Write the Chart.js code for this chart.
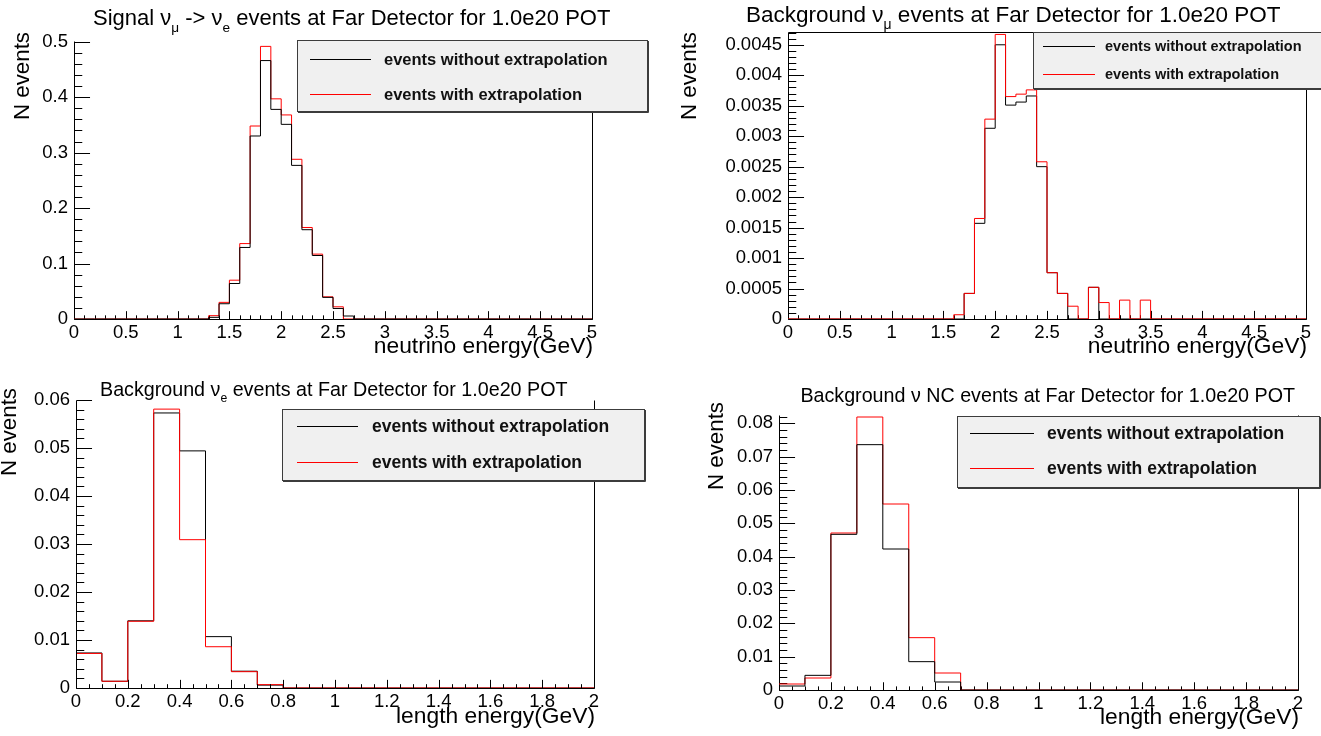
<!DOCTYPE html>
<html>
<head>
<meta charset="utf-8">
<title>Far Detector event spectra</title>
<script src="https://cdn.jsdelivr.net/npm/chart.js@4.4.1/dist/chart.umd.min.js"></script>
<style>
  html, body { margin: 0; padding: 0; background: #fff; }
  #wrap { position: relative; width: 1321px; height: 736px; overflow: hidden; }
  #wrap canvas { position: absolute; left: 0; top: 0; }
</style>
</head>
<body>
<div id="wrap">
  <canvas id="sig" width="1321" height="736"></canvas>
  <canvas id="numu" width="1321" height="736"></canvas>
  <canvas id="nue" width="1321" height="736"></canvas>
  <canvas id="nc" width="1321" height="736"></canvas>
</div>
<script>
const W = 1321, H = 736;
const FONT = "'Liberation Sans', Arial, Helvetica, sans-serif";

// all histograms use 0.1 GeV bins starting at 0
const BIN_WIDTH = 0.1;

// signal numu -> nue, 0..5 GeV
const sigNoExtrap = [
  0, 0, 0, 0, 0, 0, 0, 0, 0, 0,
  0, 0, 0, 0.003, 0.0275, 0.064, 0.129, 0.330, 0.466, 0.378,
  0.351, 0.277, 0.161, 0.1145, 0.039, 0.019, 0.0054, 0, 0, 0,
  0, 0, 0, 0, 0, 0, 0, 0, 0, 0,
  0, 0, 0, 0, 0, 0, 0, 0, 0, 0
];
const sigExtrap = [
  0, 0, 0, 0, 0, 0, 0, 0, 0, 0,
  0, 0, 0, 0.006, 0.030, 0.070, 0.136, 0.348, 0.4916, 0.397,
  0.368, 0.288, 0.165, 0.117, 0.040, 0.022, 0, 0, 0, 0,
  0, 0, 0, 0, 0, 0, 0, 0, 0, 0,
  0, 0, 0, 0, 0, 0, 0, 0, 0, 0
];

// background numu, 0..5 GeV
const numuNoExtrap = [
  0, 0, 0, 0, 0, 0, 0, 0, 0, 0,
  0, 0, 0, 0, 0, 0, 0, 0.00042, 0.00157, 0.00313,
  0.0045, 0.00351, 0.00356, 0.00366, 0.00250, 0.00076, 0.00042, 0, 0, 0.00052,
  0, 0, 0, 0, 0, 0, 0, 0, 0, 0,
  0, 0, 0, 0, 0, 0, 0, 0, 0, 0
];
const numuExtrap = [
  0, 0, 0, 0, 0, 0, 0, 0, 0, 0,
  0, 0, 0, 0, 0, 0, 0.00007, 0.00042, 0.00165, 0.00328,
  0.00467, 0.00365, 0.00369, 0.00376, 0.00258, 0.00076, 0.00042, 0.00021, 0, 0.00052,
  0.00027, 0, 0.00031, 0, 0.00031, 0, 0, 0, 0, 0,
  0, 0, 0, 0, 0, 0, 0, 0, 0, 0
];

// background nue, 0..2 GeV
const nueNoExtrap = [0.0073, 0.0014, 0.0140, 0.0573, 0.0494, 0.0107, 0.0035, 0.0006, 0, 0,
                     0, 0, 0, 0, 0, 0, 0, 0, 0, 0];
const nueExtrap   = [0.0072, 0.0014, 0.0139, 0.0581, 0.0309, 0.0086, 0.0034, 0.0007, 0, 0,
                     0, 0, 0, 0, 0, 0, 0, 0, 0, 0];

// background NC, 0..2 GeV
const ncNoExtrap = [0.0012, 0.0044, 0.0467, 0.0736, 0.0423, 0.0085, 0.0024, 0, 0, 0,
                    0, 0, 0, 0, 0, 0, 0, 0, 0, 0];
const ncExtrap   = [0.0018, 0.0036, 0.0471, 0.0819, 0.0558, 0.0157, 0.0051, 0, 0, 0,
                    0, 0, 0, 0, 0, 0, 0, 0, 0, 0];

// labelled axis ticks
const topXTicks = [0, 0.5, 1, 1.5, 2, 2.5, 3, 3.5, 4, 4.5, 5];
const bottomXTicks = [0, 0.2, 0.4, 0.6, 0.8, 1, 1.2, 1.4, 1.6, 1.8, 2];
const sigYTicks = [0, 0.1, 0.2, 0.3, 0.4, 0.5];
const numuYTicks = [0, 0.0005, 0.001, 0.0015, 0.002, 0.0025, 0.003, 0.0035, 0.004, 0.0045];
const nueYTicks = [0, 0.01, 0.02, 0.03, 0.04, 0.05, 0.06];
const ncYTicks = [0, 0.01, 0.02, 0.03, 0.04, 0.05, 0.06, 0.07, 0.08];

const legendLabels = ["events without extrapolation", "events with extrapolation"];

const X_BOX = 30;   // fixed height reserved for x tick labels

const panels = [
  {
    id: "sig",
    title: [["Signal ν"], ["μ", 1], [" -> ν"], ["e", 1], [" events at Far Detector for 1.0e20 POT"]],
    titleX: 93, titleY: 25, titleSize: 22, titleAlign: "left",
    xTitle: "neutrino energy(GeV)", xTitleY: 353,
    yTitleX: 23, yTitleTop: 32,
    frame: { left: 74, right: 592, top: 41, bottom: 319 },
    xMax: 5, yMax: 0.5013, xTicks: topXTicks, yTicks: sigYTicks, xMinor: 0.1, yMinor: 0.02,
    noExtrap: sigNoExtrap, extrap: sigExtrap, redOnTop: false, topLine: false,
    legend: { left: 297, top: 40, right: 648, bottom: 112, rows: [59, 94], lineX: [310, 371], textX: 384, size: 16.5 }
  },
  {
    id: "numu",
    title: [["Background ν"], ["μ", 1], [" events at Far Detector for 1.0e20 POT"]],
    titleX: 746, titleY: 22, titleSize: 22.5, titleAlign: "left",
    xTitle: "neutrino energy(GeV)", xTitleY: 353,
    yTitleX: 690, yTitleTop: 32,
    frame: { left: 788, right: 1306, top: 32, bottom: 319 },
    xMax: 5, yMax: 0.00471, xTicks: topXTicks, yTicks: numuYTicks, xMinor: 0.1, yMinor: 0.0001,
    noExtrap: numuNoExtrap, extrap: numuExtrap, redOnTop: true, topLine: true,
    legend: { left: 1033, top: 32, right: 1322, bottom: 89, rows: [46, 74], lineX: [1043, 1095], textX: 1105, size: 14.5 }
  },
  {
    id: "nue",
    title: [["Background ν"], ["e", 1], [" events at Far Detector for 1.0e20 POT"]],
    titleX: 100, titleY: 396, titleSize: 19.7, titleAlign: "left",
    xTitle: "length energy(GeV)", xTitleY: 723,
    yTitleX: 10, yTitleTop: 388,
    frame: { left: 76, right: 594, top: 400, bottom: 688 },
    xMax: 2, yMax: 0.06, xTicks: bottomXTicks, yTicks: nueYTicks, xMinor: 0.05, yMinor: 0.002,
    noExtrap: nueNoExtrap, extrap: nueExtrap, redOnTop: true, topLine: false,
    legend: { left: 282, top: 409, right: 645, bottom: 481, rows: [426, 462], lineX: [297, 358], textX: 372, size: 17.5 }
  },
  {
    id: "nc",
    title: [["Background ν NC events at Far Detector for 1.0e20 POT"]],
    titleX: 1295, titleY: 402, titleSize: 19.7, titleAlign: "right",
    xTitle: "length energy(GeV)", xTitleY: 724,
    yTitleX: 717, yTitleTop: 402,
    frame: { left: 779, right: 1298, top: 415, bottom: 690 },
    xMax: 2, yMax: 0.0825, xTicks: bottomXTicks, yTicks: ncYTicks, xMinor: 0.05, yMinor: 0.002,
    noExtrap: ncNoExtrap, extrap: ncExtrap, redOnTop: false, topLine: false,
    legend: { left: 957, top: 416, right: 1320, bottom: 488, rows: [433, 468], lineX: [970, 1034], textX: 1047, size: 17.5 }
  }
];

// bin contents -> step outline points (left edge of each bin, closing at the upper edge)
function histPoints(vals) {
  const pts = vals.map((v, i) => ({ x: i * BIN_WIDTH, y: v }));
  pts.push({ x: vals.length * BIN_WIDTH, y: 0 });
  return pts;
}

function fmt(v) {
  return String(parseFloat(Number(v).toFixed(6)));
}

const px = v => Math.round(v) + 0.5;

function drawFrame(chart, p) {
  const { ctx, chartArea: a, scales } = chart;
  const xs = scales.x, ys = scales.y;
  const L = px(a.left), R = px(a.right), T = px(a.top), B = px(a.bottom);
  const xLen = 0.03 * (a.bottom - a.top);
  const yLen = 0.03 * (a.right - a.left);

  ctx.save();
  ctx.strokeStyle = "#000";
  ctx.lineWidth = 1;
  ctx.beginPath();
  ctx.moveTo(L, T); ctx.lineTo(L, B); ctx.lineTo(R, B); ctx.lineTo(R, T);
  if (p.topLine) { ctx.lineTo(L, T); }

  // x ticks, inside the frame
  const nx = Math.round(p.xMax / p.xMinor);
  for (let i = 0; i <= nx; i++) {
    const v = i * p.xMinor;
    const major = p.xTicks.some(t => Math.abs(t - v) < 1e-9);
    const x = px(xs.getPixelForValue(v));
    ctx.moveTo(x, B);
    ctx.lineTo(x, B - (major ? xLen : xLen / 2));
  }
  // y ticks
  const ny = Math.floor(p.yMax / p.yMinor + 1e-6);
  for (let i = 0; i <= ny; i++) {
    const v = i * p.yMinor;
    const major = p.yTicks.some(t => Math.abs(t - v) < p.yMinor * 1e-3);
    const y = px(ys.getPixelForValue(v));
    ctx.moveTo(L, y);
    ctx.lineTo(L + (major ? yLen : yLen / 2), y);
  }
  ctx.stroke();
  ctx.restore();
}

// text with optional subscript runs
function drawRich(ctx, parts, x, y, size, align) {
  const fontOf = sub => `${sub ? size * 0.62 : size}px ${FONT}`;
  let total = 0;
  parts.forEach(([t, sub]) => { ctx.font = fontOf(sub); total += ctx.measureText(t).width; });
  let cx = align === "right" ? x - total : x;
  ctx.textAlign = "left";
  parts.forEach(([t, sub]) => {
    ctx.font = fontOf(sub);
    ctx.fillText(t, cx, y + (sub ? size * 0.3 : 0));
    cx += ctx.measureText(t).width;
  });
}

function drawTexts(chart, p) {
  const ctx = chart.ctx;
  const a = chart.chartArea;
  ctx.save();
  ctx.fillStyle = "#000";
  ctx.textBaseline = "alphabetic";
  drawRich(ctx, p.title, p.titleX, p.titleY, p.titleSize, p.titleAlign);

  ctx.font = `22.8px ${FONT}`;
  ctx.textAlign = "right";
  ctx.fillText(p.xTitle, a.right + 1, p.xTitleY);

  ctx.translate(p.yTitleX, p.yTitleTop);
  ctx.rotate(-Math.PI / 2);
  ctx.font = `22.3px ${FONT}`;
  ctx.textAlign = "right";
  ctx.textBaseline = "middle";
  ctx.fillText("N events", 0, 0);
  ctx.restore();
}

function drawLegend(chart, p) {
  const g = p.legend, ctx = chart.ctx;
  const w = g.right - g.left, h = g.bottom - g.top;
  ctx.save();
  ctx.fillStyle = "#f0f0f0";
  ctx.fillRect(g.left, g.top, w, h);
  ctx.strokeStyle = "#3c3c3c";
  ctx.lineWidth = 1;
  ctx.strokeRect(g.left + 0.5, g.top + 0.5, w - 1, h - 1);
  ctx.beginPath();
  ctx.moveTo(g.left + 1, g.bottom + 0.5); ctx.lineTo(g.right + 0.5, g.bottom + 0.5); ctx.lineTo(g.right + 0.5, g.top + 1);
  ctx.stroke();

  ctx.textAlign = "left";
  ctx.textBaseline = "middle";
  ctx.font = `bold ${g.size}px ${FONT}`;
  chart.data.datasets.forEach((ds, i) => {
    const y = px(g.rows[i]);
    ctx.strokeStyle = ds.borderColor;
    ctx.beginPath();
    ctx.moveTo(g.lineX[0], y); ctx.lineTo(g.lineX[1], y);
    ctx.stroke();
    ctx.fillStyle = "#111";
    ctx.fillText(ds.label, g.textX, g.rows[i] + 1);
  });
  ctx.restore();
}

function rootDecor(p) {
  return {
    id: "rootDecor",
    beforeDatasetsDraw(chart) { if (!p.redOnTop || p.topLine) drawFrame(chart, p); },
    afterDatasetsDraw(chart) { if (p.redOnTop && !p.topLine) drawFrame(chart, p); },
    afterDraw(chart) { drawTexts(chart, p); drawLegend(chart, p); }
  };
}

panels.forEach(p => {
  const f = p.frame;
  const yBox = Math.min(75, f.left);   // width reserved for y tick labels
  const tickFont = { family: FONT, size: 18.5 };
  new Chart(document.getElementById(p.id), {
    type: "line",
    data: {
      datasets: [
        {
          label: legendLabels[0],
          data: histPoints(p.noExtrap),
          borderColor: "#000000",
          borderWidth: 1,
          stepped: true,
          pointRadius: 0,
          fill: false,
          order: p.redOnTop ? 1 : 0
        },
        {
          label: legendLabels[1],
          data: histPoints(p.extrap),
          borderColor: "#ff0000",
          borderWidth: 1,
          stepped: true,
          pointRadius: 0,
          fill: false,
          order: p.redOnTop ? 0 : 1
        }
      ]
    },
    options: {
      responsive: false,
      animation: false,
      devicePixelRatio: 1,
      events: [],
      layout: {
        padding: {
          left: f.left - yBox,
          top: f.top,
          right: W - f.right,
          bottom: H - f.bottom - X_BOX
        }
      },
      plugins: {
        legend: { display: false },
        tooltip: { enabled: false },
        title: { display: false }
      },
      scales: {
        x: {
          type: "linear",
          min: 0,
          max: p.xMax,
          afterBuildTicks: s => { s.ticks = p.xTicks.map(v => ({ value: v })); },
          afterFit: s => { s.height = X_BOX; },
          grid: { display: false, drawTicks: false },
          border: { display: false },
          ticks: { font: tickFont, color: "#000", padding: 3, maxRotation: 0, autoSkip: false, callback: fmt }
        },
        y: {
          type: "linear",
          min: 0,
          max: p.yMax,
          afterBuildTicks: s => { s.ticks = p.yTicks.map(v => ({ value: v })); },
          afterFit: s => { s.width = yBox; },
          grid: { display: false, drawTicks: false },
          border: { display: false },
          ticks: { font: tickFont, color: "#000", padding: 6, autoSkip: false, callback: fmt }
        }
      }
    },
    plugins: [rootDecor(p)]
  });
});
</script>
</body>
</html>
